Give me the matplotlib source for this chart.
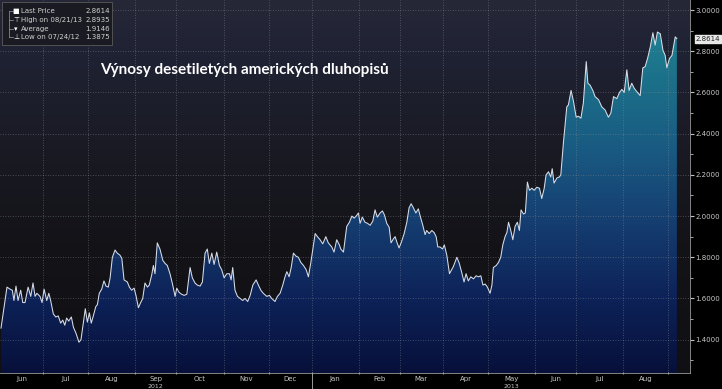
import matplotlib
matplotlib.use("Agg")
import matplotlib.pyplot as plt
import matplotlib.colors as mcolors
from matplotlib.patches import Rectangle
import numpy as np
import pandas as pd

# trading-day index (0 = 1 Jun 2012) and 10y yield
tday = [0.5, 3.4, 4.9, 6.0, 6.8, 7.8, 8.8, 10.1, 11.1, 12.2, 13.7, 15.0, 16.1, 17.1, 18.0,
        19.5, 20.5, 21.5, 22.8, 23.8, 24.7, 26.0, 27.2, 28.4, 29.6, 30.6, 31.6, 32.5, 33.5,
        34.8, 35.8, 37.1, 38.5, 39.5, 40.6, 41.6, 42.6, 43.6, 44.5, 45.5, 46.7, 47.5, 48.4,
        49.6, 50.7, 51.7, 52.8, 53.7, 54.8, 56.1, 57.2, 58.5,
        59.4, 60.5, 62.1, 63.1, 64.2, 65.4, 66.3, 67.5, 68.6, 69.6, 70.7, 71.9, 72.8, 74.0,
        74.8, 75.6, 76.7, 78.0, 79.4, 80.5, 81.6, 82.9, 84.0, 85.4, 86.2, 87.3, 88.6, 89.8,
        91.1, 92.7, 93.8, 95.1, 96.2, 97.6, 98.7, 100.0, 101.1, 102.1, 103.3, 104.4, 105.7,
        107.0, 108.1, 109.3, 110.6,
        111.9, 112.7, 113.5, 114.6, 115.8, 117.1, 118.4, 119.5, 120.8, 122.0, 123.3, 124.9,
        126.0, 127.2, 128.4, 130.1, 131.4, 132.5, 134.1, 135.3, 136.6, 137.9, 139.0, 139.9,
        141.0, 142.0, 143.1, 144.4, 145.5, 146.7, 148.0, 149.3, 150.4, 151.6, 153.7, 154.8,
        156.1, 157.4, 158.9, 160.1, 161.8, 162.9, 164.2, 165.5,
        166.2, 167.5, 169.1, 170.4, 171.6, 172.7, 173.7, 174.8, 175.6, 176.7, 178.0, 179.2,
        180.5, 181.8, 182.9, 184.0, 185.4, 186.5, 187.5, 188.6, 189.8, 190.7, 191.9, 192.7,
        193.5, 194.6, 195.8, 197.1, 198.4, 199.5, 200.5, 201.6, 202.8, 204.0, 205.2, 206.2,
        207.3, 208.1, 209.3, 210.6, 211.7, 212.7, 213.5, 214.6, 215.8, 216.7, 217.9, 219.2,
        221.1, 222.8, 224.0, 225.2, 226.3, 227.3, 228.4, 229.6, 230.9, 232.2, 233.3, 234.5,
        235.5, 236.6, 237.7, 239.0, 239.9, 240.6, 242.0, 243.1, 244.2, 245.2, 246.3, 247.2,
        248.0, 249.1, 250.1, 251.2, 252.3, 253.3, 254.1, 255.3, 256.2, 257.2, 258.2, 259.4,
        260.5, 261.8, 263.1, 264.2, 265.4, 266.3, 267.5, 268.6, 269.3, 270.2, 271.6, 272.8,
        273.5, 274.8, 276.4, 277.2, 278.5, 279.7, 281.0, 282.1, 283.3, 284.5, 285.9, 286.7,
        287.8, 289.1, 290.2, 291.9, 293.5, 295.1, 296.7, 297.9, 299.2, 300.8, 302.1, 303.3,
        304.4, 305.7, 306.8, 308.1, 309.3, 310.9, 312.2, 313.5, 314.6, 315.8, 317.1, 318.4,
        319.5, 320.6, 322.0, 323.3, 324.4, 325.2, 326.5, 327.7, 328.4, 329.3, 330.1]
yld = [1.456, 1.655, 1.645, 1.64, 1.59, 1.66, 1.59, 1.64, 1.58, 1.58, 1.655, 1.61, 1.675, 1.61, 1.625,
       1.61, 1.58, 1.645, 1.59, 1.625, 1.59, 1.525, 1.51, 1.515, 1.48, 1.495, 1.47, 1.505, 1.49,
       1.51, 1.46, 1.43, 1.3875, 1.40, 1.48, 1.55, 1.485, 1.53, 1.48, 1.515, 1.56, 1.57, 1.625,
       1.645, 1.685, 1.66, 1.655, 1.70, 1.80, 1.835, 1.82, 1.81,
       1.795, 1.69, 1.68, 1.655, 1.64, 1.65, 1.615, 1.555, 1.58, 1.60, 1.675, 1.655, 1.665, 1.715,
       1.76, 1.72, 1.87, 1.84, 1.785, 1.77, 1.76, 1.72, 1.675, 1.61, 1.65, 1.63, 1.62, 1.615,
       1.62, 1.75, 1.70, 1.675, 1.665, 1.66, 1.68, 1.82, 1.84, 1.77, 1.82, 1.765, 1.825,
       1.76, 1.74, 1.70, 1.72,
       1.72, 1.69, 1.75, 1.64, 1.61, 1.60, 1.59, 1.60, 1.585, 1.615, 1.665, 1.69,
       1.665, 1.64, 1.625, 1.61, 1.615, 1.60, 1.585, 1.61, 1.625, 1.665, 1.705, 1.73,
       1.705, 1.75, 1.82, 1.805, 1.80, 1.775, 1.76, 1.74, 1.705, 1.775, 1.915, 1.90,
       1.885, 1.865, 1.90, 1.87, 1.85, 1.825, 1.885, 1.86,
       1.84, 1.825, 1.95, 1.97, 2.0, 1.99, 2.0, 2.015, 1.965, 1.995, 1.97, 1.965,
       1.955, 1.975, 2.03, 1.995, 2.015, 2.025, 2.005, 1.965, 1.945, 1.87, 1.89, 1.90,
       1.875, 1.845, 1.875, 1.915, 1.97, 2.04, 2.06, 2.04, 2.015, 2.035, 1.99, 1.955,
       1.91, 1.93, 1.915, 1.93, 1.92, 1.90, 1.85, 1.85, 1.84, 1.86, 1.81, 1.72,
       1.755, 1.80, 1.77, 1.725, 1.68, 1.72, 1.685, 1.705, 1.695, 1.71, 1.705, 1.71,
       1.665, 1.67, 1.655, 1.625, 1.665, 1.75, 1.76, 1.775, 1.80, 1.86, 1.90, 1.92,
       1.97, 1.93, 1.885, 1.95, 1.97, 1.93, 2.03, 2.01, 2.015, 2.165, 2.125, 2.135,
       2.125, 2.14, 2.135, 2.085, 2.135, 2.20, 2.215, 2.19, 2.23, 2.16, 2.185, 2.19,
       2.20, 2.36, 2.53, 2.54, 2.61, 2.555, 2.48, 2.485, 2.475, 2.55, 2.75, 2.645,
       2.635, 2.61, 2.58, 2.565, 2.53, 2.515, 2.48, 2.50, 2.58, 2.57, 2.60, 2.615,
       2.60, 2.71, 2.61, 2.645, 2.62, 2.60, 2.585, 2.72, 2.725, 2.765, 2.82, 2.89,
       2.83, 2.8935, 2.885, 2.805, 2.78, 2.72, 2.765, 2.78, 2.82, 2.87, 2.8614]

legend_names = ["Last Price", "High on 08/21/13", "Average", "Low on 07/24/12"]
legend_vals = ["2.8614", "2.8935", "1.9146", "1.3875"]
title = "Výnosy desetiletých amerických dluhopisů"
last_price = 2.8614

W, H = 722, 389
fig = plt.figure(figsize=(W / 100, H / 100), dpi=100, facecolor="black")
ax = fig.add_axes([0, 16 / H, 690 / W, 373 / H])
ax.set_facecolor("black")

x0, x1 = 0, 336.5
y0, y1 = 1.238, 3.049
ax.set_xlim(x0, x1)
ax.set_ylim(y0, y1)

# background gradient above the line
bg = mcolors.LinearSegmentedColormap.from_list(
    "bg", [(0, "#101014"), (0.35, "#131318"), (0.6, "#1a1a24"), (0.85, "#1f2233"), (1, "#262838")])
grad = np.linspace(0, 1, 256).reshape(-1, 1)
ax.imshow(grad, extent=[x0, x1, y0, y1], origin="lower", aspect="auto", cmap=bg, zorder=0)

# area fill with vertical gradient, clipped to the series
fc = mcolors.LinearSegmentedColormap.from_list(
    "fill", [(0, "#07103a"), (0.2, "#0d2258"), (0.4, "#153d70"), (0.6, "#195a82"),
             (0.8, "#1c728a"), (1, "#218a98")])
poly = ax.fill_between(tday, yld, y0, color="none", lw=0, zorder=1)
im = ax.imshow(grad, extent=[x0, x1, y0, y1], origin="lower", aspect="auto", cmap=fc, zorder=1)
im.set_clip_path(poly.get_paths()[0], transform=ax.transData)

ax.plot(tday, yld, color="#d8dde6", lw=0.75, zorder=3)

# month ticks at first trading day of each month
bd = pd.bdate_range("2012-06-01", "2013-09-30")
first = bd.to_series().groupby([bd.year, bd.month]).first()
pos = [bd.get_loc(d) for d in first]
mlab = [d.strftime("%b") for d in first]
bounds = pos[1:16]
for b in bounds:
    ax.axvline(b, color="#8a8f99", lw=0.6, ls=(0, (1, 2)), alpha=0.6, zorder=2)
for v in np.arange(1.4, 3.01, 0.2):
    ax.axhline(v, color="#8a8a8a", lw=0.6, ls=(0, (1, 2)), alpha=0.6, zorder=2)

ax.set_xticks(bounds)
ax.set_xticklabels([])
ax.tick_params(axis="x", length=2, color="#b0b0b0", direction="inout")
mids = [(pos[i] + pos[i + 1]) / 2 for i in range(15)]
xt = ax.get_xaxis_transform()
for m, lab in zip(mids, mlab[:15]):
    ax.text(m, -0.008, lab, transform=xt, ha="center", va="top", color="#c8c8c8", fontsize=5)
ax.text(mids[3], -0.030, "2012", transform=xt, ha="center", va="top",
        color="#c8c8c8", fontsize=4.5, clip_on=False)
ax.text(mids[11], -0.030, "2013", transform=xt, ha="center", va="top",
        color="#c8c8c8", fontsize=4.5, clip_on=False)
ax.plot([pos[7], pos[7]], [0, -0.06], transform=xt, color="#b0b0b0", lw=0.6, clip_on=False)

ax.yaxis.tick_right()
ax.set_yticks(np.arange(1.4, 3.01, 0.2))
ax.set_yticklabels([f"{v:.4f}" for v in np.arange(1.4, 3.01, 0.2)])
ax.set_yticks(np.arange(1.3, 3.0, 0.2), minor=True)
ax.tick_params(axis="y", length=3, color="#c0c0c0", labelcolor="#c8c8c8", labelsize=5, pad=1)
ax.tick_params(axis="y", which="minor", length=2, color="#c0c0c0")
for s in ["left", "top"]:
    ax.spines[s].set_visible(False)
for s in ["right", "bottom"]:
    ax.spines[s].set_color("#9a9a9a")
    ax.spines[s].set_linewidth(0.6)

ax.annotate(f"{last_price:.4f}", xy=(1, last_price), xycoords=("axes fraction", "data"),
            xytext=(4, 0), textcoords="offset points", va="center", ha="left", fontsize=5,
            color="#202020", bbox=dict(boxstyle="square,pad=0.15", fc="#e8e8e8", ec="#e8e8e8"),
            annotation_clip=False)

# title
fig.text(100 / W, 1 - 70 / H, title, color="white", fontsize=11, fontweight="bold",
         family="Lato", va="center", ha="left")

# legend box in the top-left corner
def fx(p):
    return p / W

def fy(p):
    return 1 - p / H

fig.patches.append(Rectangle((fx(2), fy(45)), fx(110), 43 / H, transform=fig.transFigure,
                             fc="#1a1b22", ec="#5a5a5a", lw=0.6, zorder=5))
rows = [11, 20, 29, 37]
icons = ["■", "⊤", "▾", "⊥"]
fig.lines.append(plt.Line2D([fx(9), fx(9)], [fy(11), fy(37)], transform=fig.transFigure,
                            color="#9a9a9a", lw=0.5, zorder=6))
for r, ic, name, val in zip(rows, icons, legend_names, legend_vals):
    fig.lines.append(plt.Line2D([fx(9), fx(13)], [fy(r), fy(r)], transform=fig.transFigure,
                                color="#9a9a9a", lw=0.5, zorder=6))
    fig.text(fx(16), fy(r), ic, color="white", fontsize=5, va="center", ha="center", zorder=7)
    fig.text(fx(21), fy(r), name, color="#d0d0d0", fontsize=5, va="center", ha="left", zorder=7)
    fig.text(fx(110), fy(r), val, color="#d0d0d0", fontsize=5, va="center", ha="right", zorder=7)

plt.savefig("out.png", dpi=100, facecolor="black")
